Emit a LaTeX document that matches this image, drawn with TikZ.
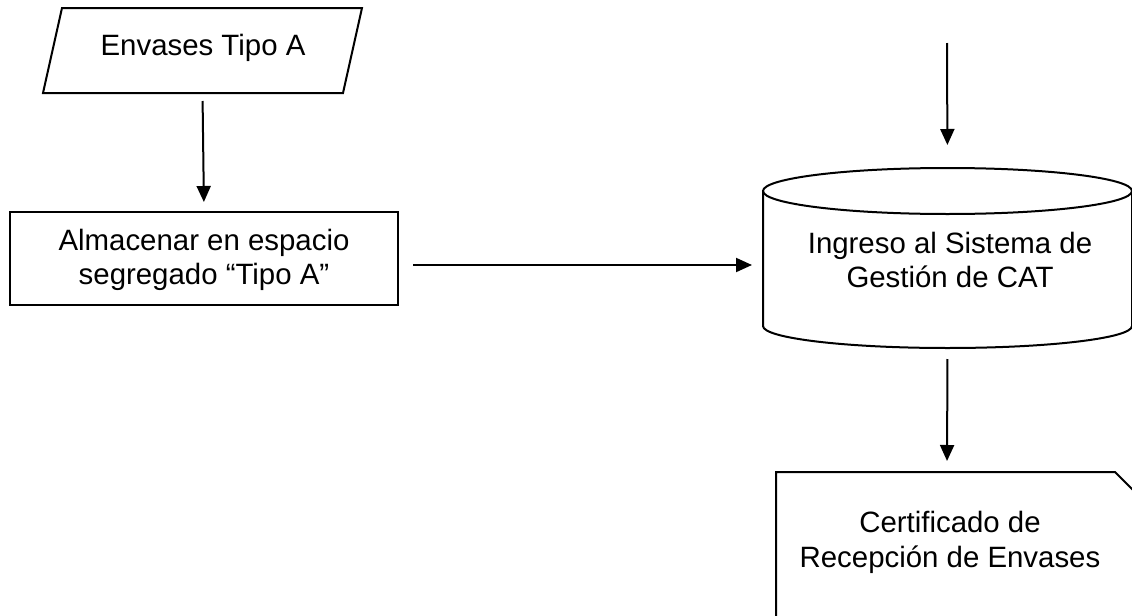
\documentclass[tikz,border=0pt]{standalone}
\usepackage{fontspec}
\setmainfont{Liberation Sans}
\usetikzlibrary{arrows.meta,calc}
\begin{document}
\begin{tikzpicture}[x=0.5pt,y=-0.5pt,
  line width=1pt,
  shapebox/.style={draw=none,inner sep=0pt,outer sep=0pt},
  txt/.style={inner sep=0pt,align=center,font=\fontsize{14.7pt}{17pt}\selectfont},
  arr/.style={-{Triangle[length=8pt,width=7pt]}}]
\useasboundingbox (0,0) rectangle (1132,616);
\begin{scope}
\clip (0,0) rectangle (1132,616);
% parallelogram (input)
\node[shapebox,minimum width=150pt,minimum height=42.5pt] (inA) at (202.5,50.5) {};
\draw (62,8) -- (362,8) -- (343,93) -- (43,93) -- cycle;
\node[txt] (inAt) at (203,48) {Envases Tipo A};
% process box
\node[draw,inner sep=0pt,minimum width=194pt,minimum height=46.5pt] (alm) at (204,258.5) {};
\node[txt] (almt) at (204,260) {Almacenar en espacio\\segregado “Tipo A”};
% cylinder (database)
\node[shapebox,minimum width=184.5pt,minimum height=90pt] (cyl) at (947.5,258) {};
\draw (947.5,191) ellipse [x radius=92.25pt, y radius=11.5pt];
\draw (763,191) -- (763,326) arc [start angle=180, end angle=360, x radius=92.25pt, y radius=11pt] -- (1132,191);
\node[txt] (cylt) at (950,260) {Ingreso al Sistema de\\Gestión de CAT};
% document
\node[shapebox] (doc) at (947,472) {};
\draw (776,640) -- (776,472) -- (1115,472) -- (1145,502) -- (1145,640);
\node[txt,font=\fontsize{14.7pt}{17.5pt}\selectfont] (doct) at (950,542) {Certificado de\\Recepción de Envases};
\end{scope}
% connectors
\coordinate (src) at (947,43);
\draw[arr,shorten <=4pt,shorten >=4.5pt] (inA.south) -- (alm.north);
\draw[arr] ($(alm.east)+(14,6.5)$) -- ($(cyl.west)+(-11,7)$);
\draw[arr,shorten >=11.5pt] (src) -- (cyl.north);
\draw[arr,shorten <=5.5pt,shorten >=5pt] (cyl.south) -- (doc);
\end{tikzpicture}
\end{document}
